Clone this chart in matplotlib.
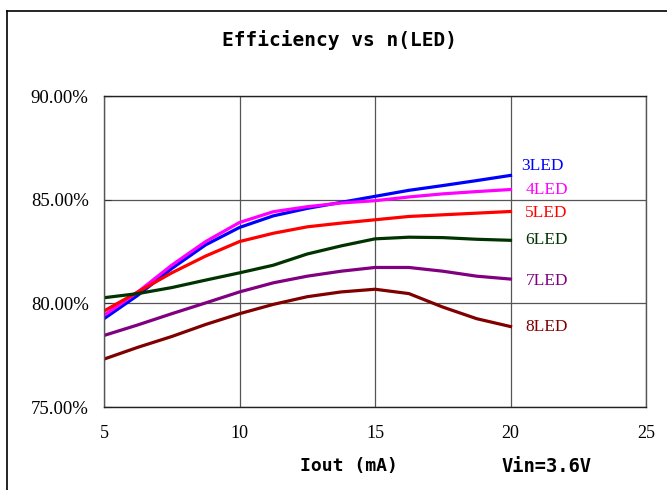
import numpy as np
import matplotlib
matplotlib.use("Agg")
import matplotlib.pyplot as plt
from matplotlib.lines import Line2D

## Data

iout = [5, 6.25, 7.5, 8.75, 10, 11.25, 12.5, 13.75, 15, 16.25, 17.5, 18.75, 20]

eff_3led = [79.26, 80.39, 81.68, 82.82, 83.66, 84.22, 84.58, 84.87, 85.16, 85.45, 85.68, 85.92, 86.17]
eff_4led = [79.42, 80.55, 81.84, 82.98, 83.90, 84.42, 84.66, 84.84, 84.95, 85.13, 85.28, 85.39, 85.49]
eff_5led = [79.63, 80.55, 81.47, 82.28, 82.98, 83.38, 83.69, 83.87, 84.03, 84.19, 84.27, 84.35, 84.43]
eff_6led = [80.27, 80.47, 80.76, 81.12, 81.47, 81.84, 82.38, 82.77, 83.11, 83.19, 83.17, 83.09, 83.04]
eff_7led = [78.45, 78.96, 79.50, 80.02, 80.55, 80.99, 81.31, 81.55, 81.73, 81.73, 81.55, 81.31, 81.17]
eff_8led = [77.31, 77.88, 78.40, 78.98, 79.50, 79.95, 80.32, 80.55, 80.68, 80.47, 79.82, 79.26, 78.88]

series = [eff_3led, eff_4led, eff_5led, eff_6led, eff_7led, eff_8led]
names = ['3LED', '4LED', '5LED', '6LED', '7LED', '8LED']
colors = ['#0000ff', '#ff00ff', '#ff0000', '#003300', '#800080', '#800000']
label_y = [86.6, 85.45, 84.35, 83.05, 81.1, 78.85]
label_x = [20.4, 20.55, 20.55, 20.55, 20.55, 20.55]

xticks = [5, 10, 15, 20, 25]
yticks = [75, 80, 85, 90]

serif = ['Liberation Serif', 'DejaVu Serif']
mono = ['DejaVu Sans Mono']

fig = plt.figure(figsize=(6.67, 4.9), dpi=100)
ax = fig.add_axes([104/667, 1-407/490, (646-104)/667, (407-96)/490])

for vals, name, col in zip(series, names, colors):
    ax.plot(iout, vals, color=col, linewidth=2.3, solid_joinstyle='round')

for name, col, lx, ly in zip(names, colors, label_x, label_y):
    ax.text(lx, ly, name, color=col, fontsize=12.5, family=serif, va='center', ha='left')

ax.set_xlim(5, 25)
ax.set_ylim(75, 90)
ax.set_xticks(xticks)
ax.set_yticks(yticks)
ax.set_xticklabels([str(t) for t in xticks], family=serif, fontsize=13)
ax.set_yticklabels(['%.2f%%' % t for t in yticks], family=serif, fontsize=13.5)
ax.tick_params(axis='y', direction='in', length=5, pad=11, color='#333333')
ax.tick_params(axis='x', direction='in', length=0, pad=13)

ax.grid(True, color='#555555', linewidth=0.9)
for s in ax.spines.values():
    s.set_color('#555555')
    s.set_linewidth(1.0)
ax.spines['top'].set_color('#222222')
ax.spines['bottom'].set_color('#222222')

fig.text(340/667, 1-40/490, 'Efficiency vs n(LED)', ha='center', va='center',
         family=mono, fontweight='bold', fontsize=14)
fig.text(349/667, 1-466/490, 'Iout (mA)', ha='center', va='center',
         family=mono, fontweight='bold', fontsize=13)
fig.text(546/667, 1-466/490, 'Vin=3.6V', ha='center', va='center',
         family=mono, fontweight='bold', fontsize=13.5)

# outer frame, only left and top edges fall inside the picture
fig.lines.append(Line2D([7/667, 7/667], [0, 1-11/490], transform=fig.transFigure,
                        color='black', linewidth=1.2))
fig.lines.append(Line2D([7/667, 1], [1-11/490, 1-11/490], transform=fig.transFigure,
                        color='black', linewidth=1.2))

fig.savefig('out.png', dpi=100)
